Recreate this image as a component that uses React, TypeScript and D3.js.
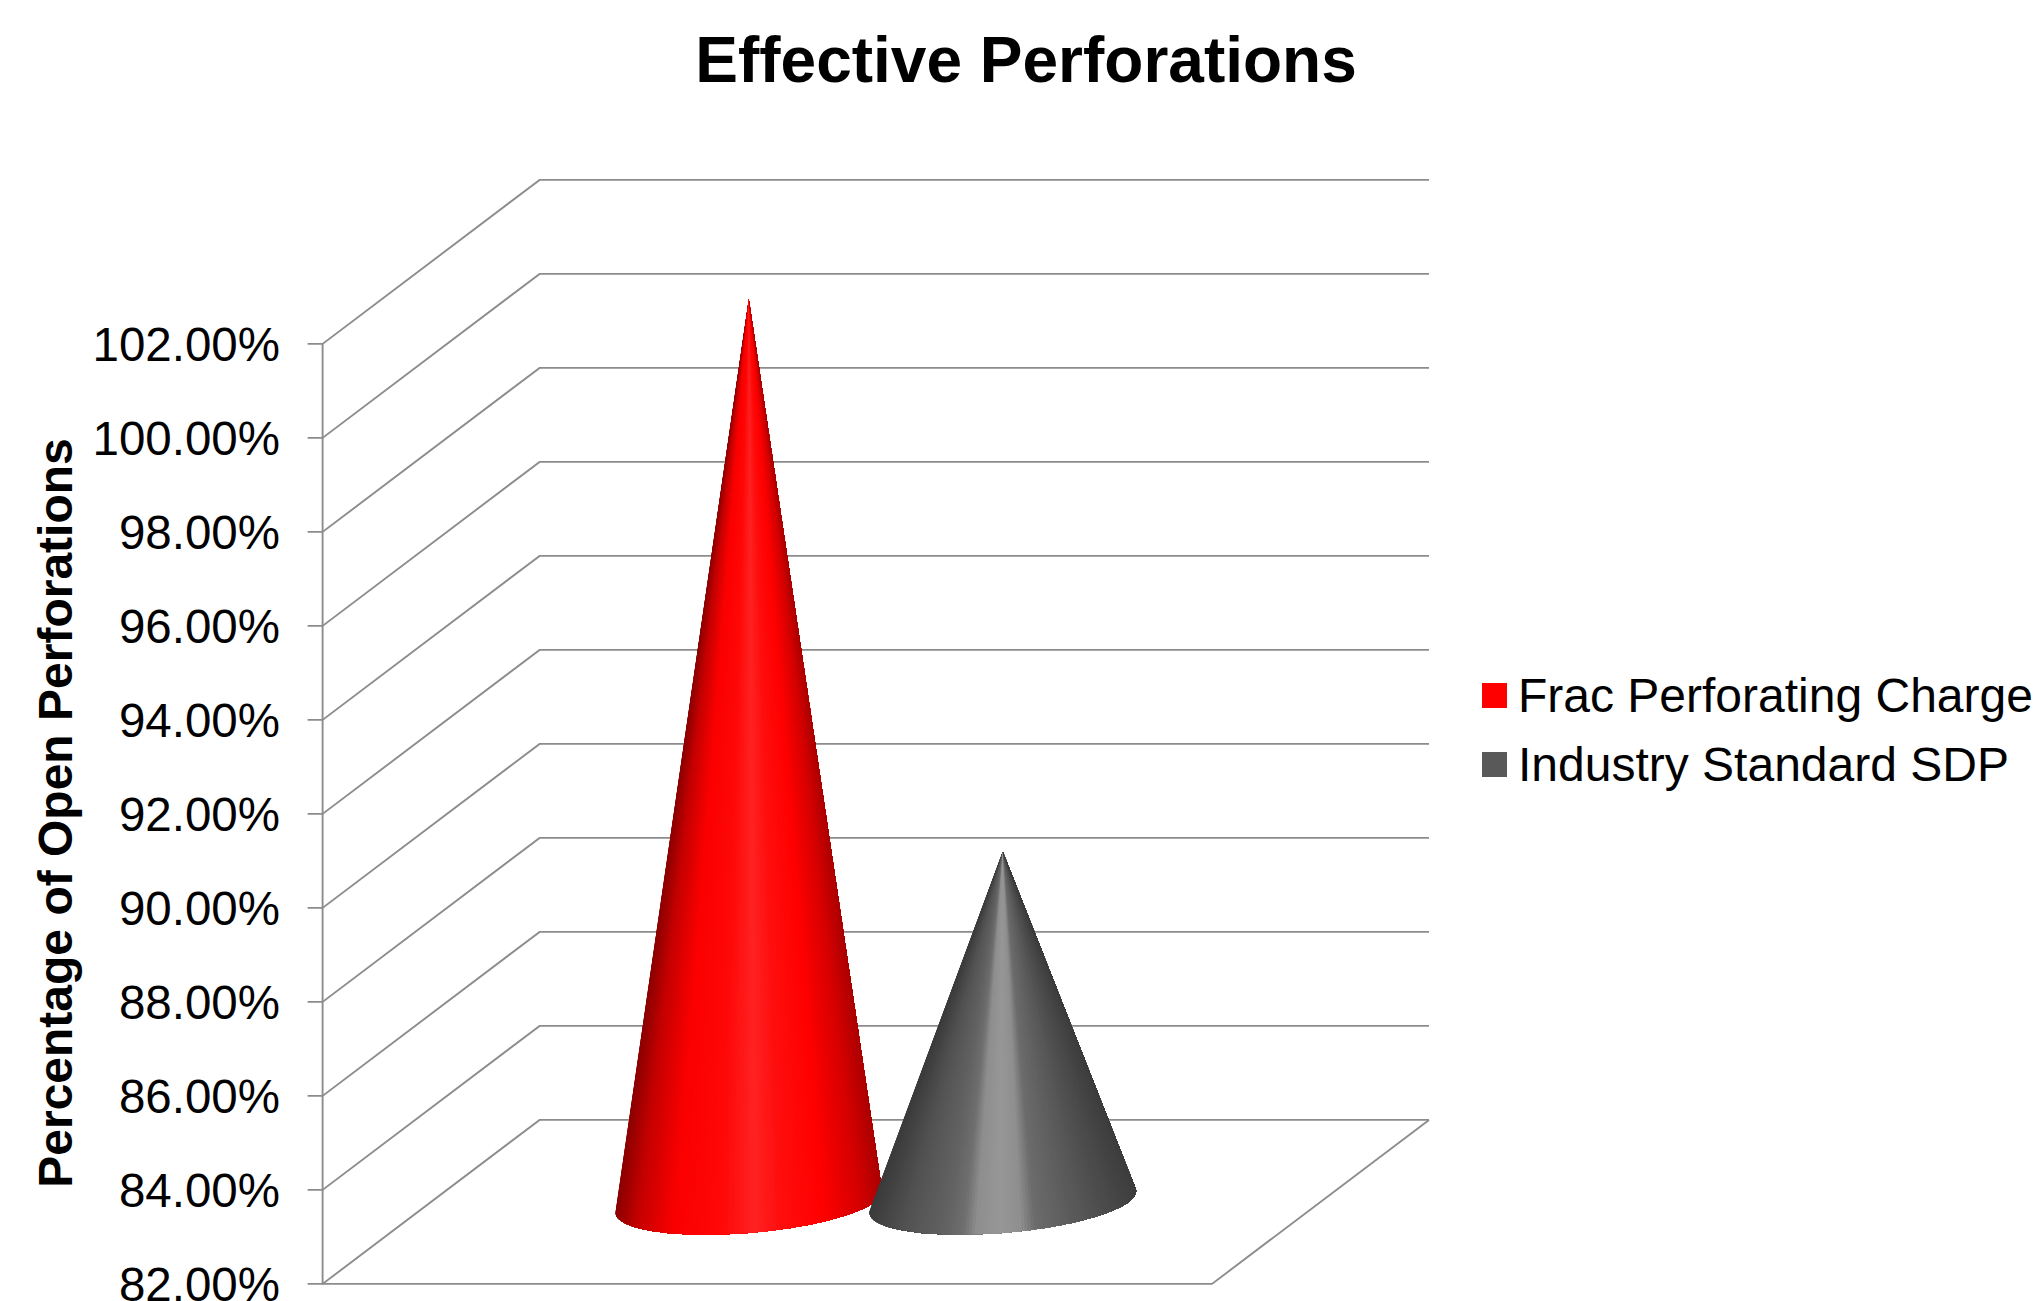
import React, { useMemo } from "react";
import * as d3 from "d3";

const chartTitle = "Effective Perforations";
const axisTitle = "Percentage of Open Perforations";
const seriesNames = ["Frac Perforating Charge", "Industry Standard SDP"];
const seriesValues = [101.2, 89.45];
const tickValues = [82, 84, 86, 88, 90, 92, 94, 96, 98, 100, 102];
const legendColors = ["#ff0000", "#595959"];

// Colour across each cone, by position between its left and right silhouette.
const shadeStops = [0, 0.08, 0.22, 0.4, 0.52, 0.62, 0.78, 0.92, 1];
const redShades = ["#8c0000", "#c40000", "#fb0000", "#ff0808", "#ff2222", "#ff0e0e", "#ff0000", "#d40000", "#ac0000"];
const grayStops = [0, 0.12, 0.28, 0.35, 0.4, 0.49, 0.57, 0.62, 0.75, 0.9, 1];
const grayShades = ["#3c3c3c", "#505050", "#626262", "#6e6e6e", "#8e8e8e", "#979797", "#8e8e8e", "#6c6c6c", "#5c5c5c", "#4a4a4a", "#3e3e3e"];

const FRONT_LEFT = 322.6;
const FRONT_RIGHT = 1212;
const DEPTH_X = 217;
const DEPTH_Y = 164;
const GRID = "#8c8c8c";
const FONT = "'Liberation Sans', Arial, sans-serif";

const y = d3.scaleLinear().domain([82, 102]).range([1283.9, 343.9]);
const x = d3
  .scaleBand<string>()
  .domain(seriesNames)
  .range([FRONT_LEFT + (FRONT_RIGHT - FRONT_LEFT) / 2 + DEPTH_X / 2 - 254, FRONT_LEFT + (FRONT_RIGHT - FRONT_LEFT) / 2 + DEPTH_X / 2 + 254]);

const RADIUS_X = 126;
const RADIUS_DEPTH = 0.2;

type Wedge = { d: string; color: string };

// A cone is painted left to right: each fan piece runs from the apex over the rest of the
// visible base arc, so the next piece paints over it and no seams show between them.
function buildCone(value: number, name: string, stops: number[], shades: string[]): Wedge[] {
  const cx = (x(name) as number) + x.bandwidth() / 2;
  const cy = y(82) - DEPTH_Y / 2;
  const apexY = y(value) - DEPTH_Y / 2;
  const bx = DEPTH_X * RADIUS_DEPTH;
  const by = DEPTH_Y * RADIUS_DEPTH;
  const point = (t: number): [number, number] => [
    cx + RADIUS_X * Math.cos(t) + bx * Math.sin(t),
    cy - by * Math.sin(t),
  ];
  // Apex in the base's unit-circle coordinates gives the two tangent angles.
  const v = (cy - apexY) / by;
  const u = -bx * v / RADIUS_X;
  const phi = Math.atan2(v, u);
  const spread = Math.acos(1 / Math.hypot(u, v));
  const tRight = phi - spread;
  const tLeft = phi + spread;
  const count = 140;
  const angles = d3.range(count + 1).map((i) => tLeft + ((tRight + 2 * Math.PI - tLeft) * i) / count);
  const pts = angles.map(point);
  const xMin = d3.min(pts, (p) => p[0]) as number;
  const xMax = d3.max(pts, (p) => p[0]) as number;
  const shade = d3.scaleLinear<string>().domain(stops).range(shades).interpolate(d3.interpolateRgb);
  const line = d3.line();
  return d3.range(count).map((i) => {
    const a = pts[i];
    const b = pts[i + 1];
    return {
      d: line([[cx, apexY] as [number, number], ...pts.slice(i)]) + "Z",
      color: shade(((a[0] + b[0]) / 2 - xMin) / (xMax - xMin)),
    };
  });
}

export default function App() {
  const cones = useMemo(
    () => [
      buildCone(seriesValues[0], seriesNames[0], shadeStops, redShades),
      buildCone(seriesValues[1], seriesNames[1], grayStops, grayShades),
    ],
    []
  );

  return (
    <svg
      width={2040}
      height={1301}
      viewBox="0 0 2040 1301"
      style={{ position: "absolute", left: 0, top: 0, display: "block", background: "#fff" }}
    >
      <text x={1026} y={82} textAnchor="middle" fontFamily={FONT} fontWeight="bold" fontSize={64} fill="#000">
        {chartTitle}
      </text>

      <text
        transform={`translate(72,813) rotate(-90)`}
        textAnchor="middle"
        fontFamily={FONT}
        fontWeight="bold"
        fontSize={48}
        fill="#000"
      >
        {axisTitle}
      </text>

      <g stroke={GRID} strokeWidth={1.9} fill="none">
        {tickValues.map((t) => (
          <path
            key={t}
            d={`M${FRONT_LEFT - 15},${y(t)}H${FRONT_LEFT}L${FRONT_LEFT + DEPTH_X},${y(t) - DEPTH_Y}H${FRONT_RIGHT + DEPTH_X}`}
          />
        ))}
        <path d={`M${FRONT_LEFT},${y(102)}V${y(82)}H${FRONT_RIGHT}L${FRONT_RIGHT + DEPTH_X},${y(82) - DEPTH_Y}`} />
      </g>

      {tickValues.map((t) => (
        <text key={t} x={280} y={y(t) + 17} textAnchor="end" fontFamily={FONT} fontSize={47.5} fill="#000">
          {`${t.toFixed(2)}%`}
        </text>
      ))}

      {cones.map((wedges, i) => (
        <g key={seriesNames[i]}>
          {wedges.map((w, j) => (
            <path key={j} d={w.d} fill={w.color} />
          ))}
        </g>
      ))}

      {seriesNames.map((name, i) => (
        <g key={name}>
          <rect x={1482} y={683 + i * 69} width={25} height={25} fill={legendColors[i]} />
          <text x={1518} y={712 + i * 69} fontFamily={FONT} fontSize={48} fill="#000">
            {name}
          </text>
        </g>
      ))}
    </svg>
  );
}
